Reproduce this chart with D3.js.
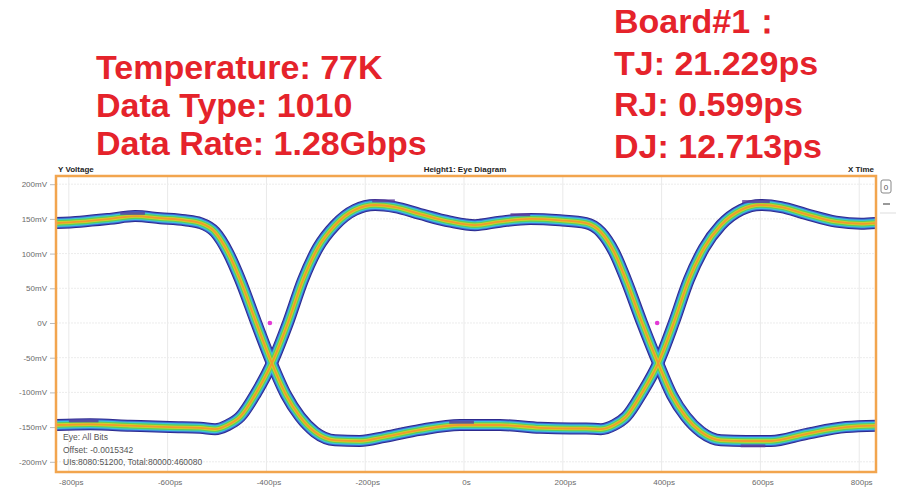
<!DOCTYPE html>
<html lang="en">
<head>
    <meta charset="UTF-8">
    <title>Eye Diagram</title>
    <script src="https://d3js.org/d3.v7.min.js"></script>
    <style>
        body { margin: 0; background: #fff; }
        svg { display: block; font-family: "Liberation Sans", Arial, sans-serif; }
        .note { font-size: 34px; font-weight: bold; fill: #e5232b; }
        .tick-label { font-size: 8px; fill: #6a6a6a; }
        .head { font-size: 8px; font-weight: bold; fill: #222; }
        .info { font-size: 8.5px; fill: #555; }
    </style>
</head>
<body>
    <script>
        const width = 904;
        const height = 495;

        // annotations
        const leftNotes = ["Temperature: 77K", "Data Type: 1010", "Data Rate: 1.28Gbps"];
        const rightNotes = ["Board#1：", "TJ: 21.229ps", "RJ: 0.599ps", "DJ: 12.713ps"];
        const infoLines = ["Eye: All Bits", "Offset: -0.0015342", "UIs:8080:51200, Total:80000:460080"];

        // axis ticks
        const timeTicks = [-800, -600, -400, -200, 0, 200, 400, 600, 800];
        const timeLabels = ["-800ps", "-600ps", "-400ps", "-200ps", "0s", "200ps", "400ps", "600ps", "800ps"];
        const voltTicks = [200, 150, 100, 50, 0, -50, -100, -150, -200];
        const voltLabels = ["200mV", "150mV", "100mV", "50mV", "0V", "-50mV", "-100mV", "-150mV", "-200mV"];

        // eye traces, [time ps, voltage mV]
        const traceA = [[-826,-147],[-757,-146],[-676,-148],[-595,-150],[-534,-151],[-504,-153],[-478,-147],
            [-453,-135],[-421,-101],[-389,-58],[-356,1],[-326,62],[-296,108],[-261,141],[-221,163],[-180,170],
            [-140,167],[-89,157],[-28,146],[22,141],[73,146],[134,150],[194,148],[247,144],[277,131],[304,102],
            [328,62],[360,1],[393,-58],[421,-104],[449,-135],[480,-157],[520,-169],[571,-170],[621,-170],
            [692,-160],[773,-150],[834,-148]];
        const traceB = [[-826,144],[-777,146],[-717,150],[-666,154],[-615,151],[-565,148],[-534,144],[-504,131],
            [-478,102],[-453,62],[-421,1],[-389,-58],[-360,-104],[-332,-135],[-302,-157],[-261,-169],[-211,-170],
            [-160,-164],[-89,-154],[-8,-147],[73,-147],[154,-151],[215,-152],[247,-152],[277,-153],[304,-147],
            [328,-135],[360,-101],[393,-58],[425,1],[455,62],[486,108],[520,141],[561,163],[601,170],[642,167],
            [692,157],[753,146],[804,143],[834,144]];

        // sparse outlier hits, [start ps, end ps, mV]
        const outliers = [[-696,-646,158],[-186,-140,176],[94,134,156],[563,619,175],[-800,-740,-141],[-30,20,-143],[560,610,-177]];
        // marker dots
        const markers = [[-393, 0], [391, 0]];

        const svg = d3.select("body")
            .append("svg")
            .attr("width", width)
            .attr("height", height);

        // red notes
        svg.selectAll(".left-note")
            .data(leftNotes)
            .enter()
            .append("text")
            .attr("class", "note")
            .attr("x", 96)
            .attr("y", (d, i) => 79 + i * 38)
            .text(d => d);

        svg.selectAll(".right-note")
            .data(rightNotes)
            .enter()
            .append("text")
            .attr("class", "note")
            .attr("x", 614)
            .attr("y", (d, i) => 33 + i * 41.5)
            .text(d => d);

        const plot = { left: 56, right: 876, top: 176, bottom: 472 };

        const xScale = d3.scaleLinear()
            .domain([-826, 834])
            .range([plot.left, plot.right]);

        const yScale = d3.scaleLinear()
            .domain([-214.7, 211.8])
            .range([plot.bottom, plot.top]);

        // grid
        svg.selectAll(".vgrid")
            .data(timeTicks)
            .enter()
            .append("line")
            .attr("x1", d => xScale(d))
            .attr("x2", d => xScale(d))
            .attr("y1", plot.top)
            .attr("y2", plot.bottom)
            .style("stroke", "#e9e9e9");

        svg.selectAll(".hgrid")
            .data(voltTicks)
            .enter()
            .append("line")
            .attr("x1", plot.left)
            .attr("x2", plot.right)
            .attr("y1", d => yScale(d))
            .attr("y2", d => yScale(d))
            .style("stroke", "#ececec")
            .style("stroke-dasharray", "2,1");

        // axes labels
        const yAxis = svg.append("g")
            .attr("transform", `translate(${plot.left - 1},0)`)
            .call(d3.axisLeft(yScale).tickValues(voltTicks).tickSize(5).tickPadding(3)
                .tickFormat((d, i) => voltLabels[i]));
        yAxis.select(".domain").remove();
        yAxis.selectAll("line").style("stroke", "#bbb");
        yAxis.selectAll("text").attr("class", "tick-label");

        const xAxis = svg.append("g")
            .attr("transform", `translate(0,${plot.bottom + 1})`)
            .call(d3.axisBottom(xScale).tickValues(timeTicks).tickSize(0).tickPadding(6)
                .tickFormat((d, i) => timeLabels[i]));
        xAxis.select(".domain").remove();
        xAxis.selectAll("text").attr("class", "tick-label").attr("dx", 2);

        // eye band, layered strokes
        const line = d3.line()
            .x(d => xScale(d[0]))
            .y(d => yScale(d[1]))
            .curve(d3.curveMonotoneX);

        const layers = [
            { color: "#2c2a8e", w: 12 },
            { color: "#3f63d2", w: 10 },
            { color: "#3dc6d6", w: 8 },
            { color: "#5fce55", w: 5.6 },
            { color: "#c9d72e", w: 3.4 },
            { color: "#f19a2c", w: 1.8 }
        ];

        const band = svg.append("g");
        layers.forEach(l => {
            band.selectAll(null)
                .data([traceA, traceB])
                .enter()
                .append("path")
                .attr("d", line)
                .style("fill", "none")
                .style("stroke", l.color)
                .style("stroke-width", l.w)
                .style("stroke-linecap", "butt");
        });

        svg.selectAll(".outlier")
            .data(outliers)
            .enter()
            .append("line")
            .attr("x1", d => xScale(d[0]))
            .attr("x2", d => xScale(d[1]))
            .attr("y1", d => yScale(d[2]))
            .attr("y2", d => yScale(d[2]))
            .style("stroke", "#5b3d9e")
            .style("stroke-width", 3)
            .style("opacity", 0.8);

        svg.selectAll(".marker")
            .data(markers)
            .enter()
            .append("circle")
            .attr("cx", d => xScale(d[0]))
            .attr("cy", d => yScale(d[1]))
            .attr("r", 2.3)
            .style("fill", "#e33ad6");

        // frame
        svg.append("rect")
            .attr("x", plot.left)
            .attr("y", plot.top)
            .attr("width", plot.right - plot.left)
            .attr("height", plot.bottom - plot.top)
            .style("fill", "none")
            .style("stroke", "#f2a54e")
            .style("stroke-width", 2.5);

        // header
        svg.append("text").attr("class", "head").attr("x", 58).attr("y", 172)
            .text("Y Voltage");
        svg.append("text").attr("class", "head").attr("x", 465).attr("y", 172)
            .attr("text-anchor", "middle").text("Height1: Eye Diagram");
        svg.append("text").attr("class", "head").attr("x", 874).attr("y", 172)
            .attr("text-anchor", "end").text("X Time");

        // side controls
        svg.append("rect").attr("x", 881).attr("y", 180).attr("width", 10).attr("height", 13)
            .attr("rx", 2).style("fill", "#fff").style("stroke", "#888");
        svg.append("text").attr("x", 886).attr("y", 190).attr("text-anchor", "middle")
            .style("font-size", "8px").style("fill", "#555").text("0");
        svg.append("line").attr("x1", 883).attr("x2", 890).attr("y1", 204).attr("y2", 204)
            .style("stroke", "#555").style("stroke-width", 1.2);
        svg.append("line").attr("x1", 880).attr("x2", 896).attr("y1", 213).attr("y2", 213)
            .style("stroke", "#ddd");

        // info box
        svg.selectAll(".info")
            .data(infoLines)
            .enter()
            .append("text")
            .attr("class", "info")
            .attr("x", 63)
            .attr("y", (d, i) => 440 + i * 12.5)
            .text(d => d);
    </script>
</body>
</html>
